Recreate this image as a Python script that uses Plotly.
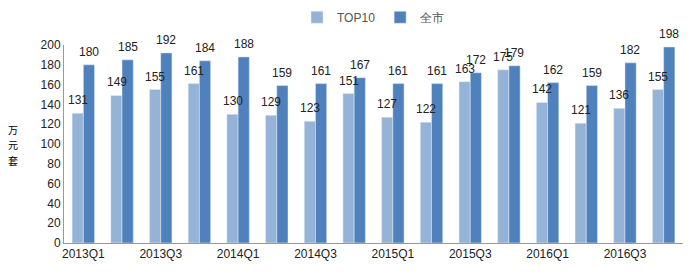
import plotly.graph_objects as go

categories = ["2013Q1","2013Q2","2013Q3","2013Q4","2014Q1","2014Q2","2014Q3","2014Q4",
              "2015Q1","2015Q2","2015Q3","2015Q4","2016Q1","2016Q2","2016Q3","2016Q4"]
top10 = [131,149,155,161,130,129,123,151,127,122,163,175,142,121,136,155]
city = [180,185,192,184,188,159,161,167,161,161,172,179,162,159,182,198]
tick_labels = categories[::2]
ylabel_chars = ["万", "元", "套"]

font = "Liberation Sans, Arial, sans-serif"
fig = go.Figure()
fig.add_trace(go.Bar(name="TOP10", x=categories, y=top10, marker_color="#95B3D7"))
fig.add_trace(go.Bar(name="全市", x=categories, y=city, marker_color="#4F81BD"))

for vals, shift in ((top10, -5.5), (city, 5.5)):
    for c, v in zip(categories, vals):
        fig.add_annotation(x=c, y=v, text=str(v), showarrow=False, xshift=shift, yshift=4,
                           yanchor="bottom", xanchor="center",
                           font=dict(size=12, color="#222", family=font))

fig.update_layout(
    width=700, height=275, barmode="group", bargap=0.42, bargroupgap=0,
    margin=dict(l=64, r=17, t=45, b=32, autoexpand=False),
    plot_bgcolor="white", paper_bgcolor="white",
    font=dict(family=font, size=12, color="#222"),
    legend=dict(orientation="h", x=0.5, xanchor="center", y=1.14, yanchor="middle",
                font=dict(size=12, color="#555"), itemwidth=30, tracegroupgap=0),
    xaxis=dict(tickvals=tick_labels, ticktext=tick_labels, showline=True, linecolor="#999",
               ticks="", tickfont=dict(size=12)),
    yaxis=dict(range=[0,200], dtick=20, showline=True, linecolor="#999", showgrid=False,
               ticks="", tickfont=dict(size=12), zeroline=False),
)
for ch, yp in zip(ylabel_chars, [0.575, 0.495, 0.415]):
    fig.add_annotation(text=ch, xref="paper", yref="paper", x=-0.082, y=yp,
                       showarrow=False, font=dict(size=10, color="#000", family="Noto Sans CJK SC"),
                       xanchor="center", yanchor="middle", borderpad=0)
fig.write_html("out.html")
